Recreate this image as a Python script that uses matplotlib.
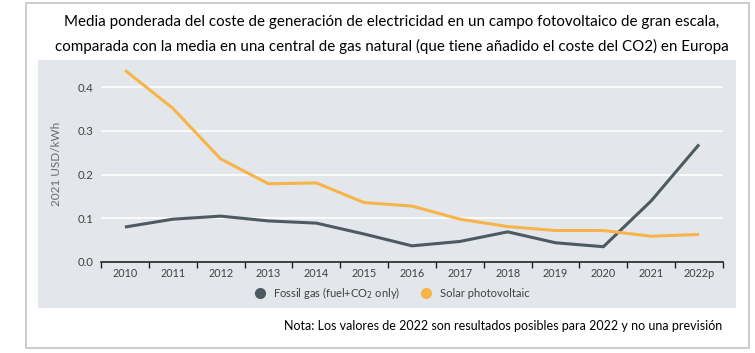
"""
Coste de generación: gas natural vs fotovoltaica en Europa
"""
import matplotlib.pyplot as plt
from matplotlib.patches import Rectangle
from matplotlib.lines import Line2D

years = ["2010", "2011", "2012", "2013", "2014", "2015", "2016",
         "2017", "2018", "2019", "2020", "2021", "2022p"]
fossil_gas = [0.080, 0.098, 0.105, 0.094, 0.089, 0.064, 0.037,
              0.047, 0.069, 0.044, 0.035, 0.140, 0.269]
solar_pv = [0.439, 0.352, 0.236, 0.179, 0.181, 0.136, 0.128,
            0.098, 0.081, 0.072, 0.072, 0.059, 0.063]
y_ticks = [0.0, 0.1, 0.2, 0.3, 0.4]

gas_color = "#4e5a62"
solar_color = "#f8b448"
panel_color = "#e3e7eb"
text_color = "#404040"

plt.rcParams['font.family'] = ['Lato', 'DejaVu Sans']

W, H = 755, 353
fig = plt.figure(figsize=(W / 100, H / 100), dpi=100)

# marco exterior y panel gris (detrás de los ejes)
fig.patches.append(Rectangle((26 / W, 5 / H), 723 / W, 345 / H,
                             transform=fig.transFigure, facecolor="white",
                             edgecolor="#c4c4c4", linewidth=1.2, zorder=-2))
fig.patches.append(Rectangle((38 / W, 45 / H), 698 / W, 248 / H,
                             transform=fig.transFigure, facecolor=panel_color,
                             edgecolor="none", zorder=-1))

ax = fig.add_axes([101 / W, 91 / H, 622 / W, 196.6 / H])
ax.set_facecolor("none")

x = list(range(len(years)))
ax.plot(x, fossil_gas, color=gas_color, linewidth=2.2, solid_capstyle="butt")
ax.plot(x, solar_pv, color=solar_color, linewidth=2.2, solid_capstyle="butt")

ax.set_xlim(-0.5, len(years) - 0.5)
ax.set_ylim(0, 0.45)
ax.set_yticks(y_ticks)
ax.set_yticklabels([f"{v:.1f}" for v in y_ticks], fontsize=8.2,
                   color=text_color)
for v in y_ticks[1:]:
    ax.axhline(v, color="white", linewidth=1.2, zorder=0)

ax.set_xticks([i + 0.5 for i in range(-1, len(years))])
ax.set_xticklabels([])
ax.set_xticks(x, minor=True)
ax.set_xticklabels(years, minor=True, fontsize=7.8, color=text_color)
ax.tick_params(axis="x", which="major", length=4, width=1, color="#222222")
ax.tick_params(axis="x", which="minor", length=0, pad=4)
ax.tick_params(axis="y", length=0, pad=5.5)

for side in ("top", "right", "left"):
    ax.spines[side].set_visible(False)
ax.spines["bottom"].set_color("#222222")
ax.spines["bottom"].set_linewidth(1.2)

ax.set_ylabel("2021 USD/kWh", fontsize=8.5, color="#6a6a6a", labelpad=11)

handles = [Line2D([], [], marker="o", linestyle="none", markersize=7,
                  color=gas_color),
           Line2D([], [], marker="o", linestyle="none", markersize=7,
                  color=solar_color)]
fig.legend(handles, ["Fossil gas (fuel+CO$_2$ only)", "Solar photovoltaic"],
           loc="center", bbox_to_anchor=(389 / W, 1 - 293 / H), ncol=2,
           frameon=False, fontsize=8, labelcolor=text_color,
           handletextpad=0.2, columnspacing=1.3)

fig.text(392 / W, 1 - 22 / H,
         "Media ponderada del coste de generación de electricidad en un campo "
         "fotovoltaico de gran escala,", ha="center", va="center",
         fontsize=10.9, color="black")
fig.text(392 / W, 1 - 46 / H,
         "comparada con la media en una central de gas natural (que tiene "
         "añadido el coste del CO2) en Europa", ha="center", va="center",
         fontsize=10.9, color="black")
fig.text(722 / W, 1 - 326 / H,
         "Nota: Los valores de 2022 son resultados posibles para 2022 y no "
         "una previsión", ha="right", va="center", fontsize=9,
         color="black")

fig.savefig("out.png", dpi=100)
